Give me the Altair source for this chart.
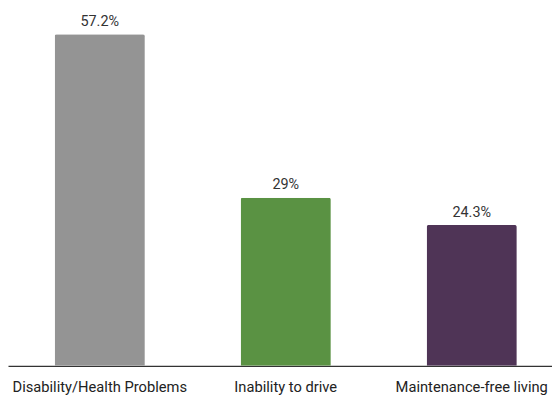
import altair as alt
import pandas as pd

categories = ["Disability/Health Problems", "Inability to drive", "Maintenance-free living"]
values = [57.2, 29, 24.3]
labels = ["57.2%", "29%", "24.3%"]
colors = ["#949494", "#5a9243", "#4f3456"]

df = pd.DataFrame({"cat": categories, "val": values, "lab": labels})

x = alt.X("cat:N", sort=categories,
          scale=alt.Scale(paddingInner=0.515, paddingOuter=0.22, align=0.57),
          axis=alt.Axis(title=None, labelAngle=0, ticks=False, domainColor="#333333",
                        domainWidth=1.2, labelFont="Roboto", labelFontSize=14.8,
                        labelColor="#222222", labelPadding=14))
y = alt.Y("val:Q", scale=alt.Scale(domain=[0, 61.5], nice=False), axis=None)

bars = alt.Chart(df).mark_bar(cornerRadiusTopLeft=2, cornerRadiusTopRight=2).encode(
    x=x, y=y,
    color=alt.Color("cat:N", scale=alt.Scale(domain=categories, range=colors), legend=None),
)
text = alt.Chart(df).mark_text(baseline="alphabetic", dy=-8.5, font="Roboto", fontSize=14.5,
                               color="#333333").encode(x=x, y=y, text="lab:N")

chart = (bars + text).properties(width=548, height=359, padding=0).configure_view(stroke=None)
chart.save("out.html", embed_options={"renderer": "svg", "actions": False})
